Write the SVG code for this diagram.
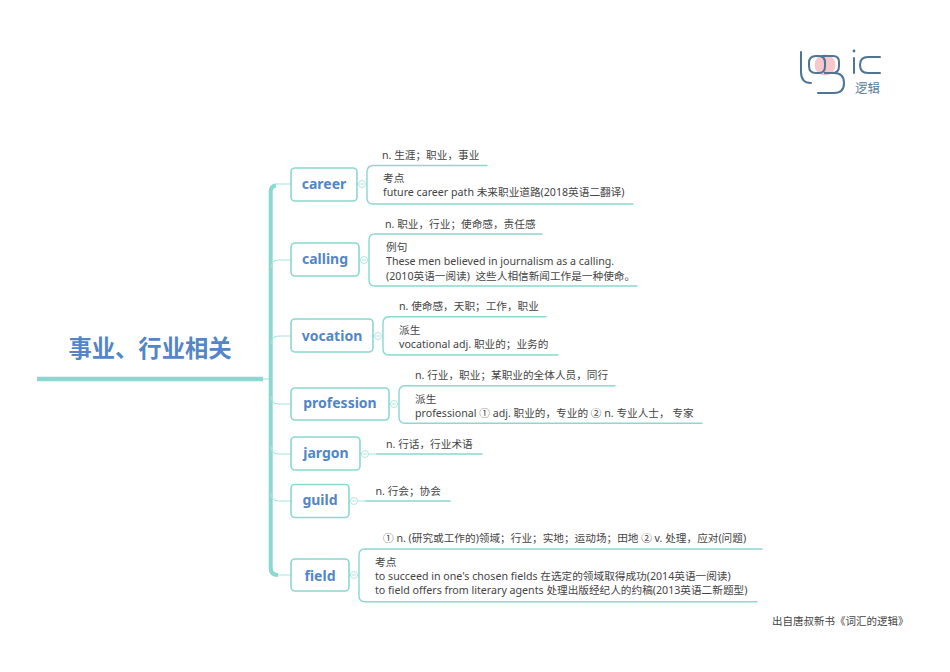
<svg xmlns="http://www.w3.org/2000/svg" width="950" height="672" viewBox="0 0 950 672">
<style>
text{font-family:"Noto Sans","Noto Sans CJK SC",sans-serif}
.t{font-size:10.650px;fill:#444}
.n{font-size:14px;font-weight:700;fill:#5286c6;text-anchor:middle}
.b{fill:#fff;stroke:#8ad8d0;stroke-width:1.6}
.l{fill:none;stroke:#8ad8d0;stroke-width:1.4;stroke-linecap:round}
.s{fill:none;stroke:#a8e3dd;stroke-width:1.2}
.c{fill:#fff;stroke:#a8e3dd;stroke-width:.9}
.m{stroke:#a8e3dd;stroke-width:.9}
.g{fill:none;stroke:#4e7594;stroke-width:2;stroke-linecap:round}
</style>
<rect width="950" height="672" fill="#fff"/>
<g id="logo">
<circle cx="825" cy="65" r="10.500" fill="#f6c7cd"/>
<path class="g" d="M801 52V72Q801 83 811 83"/>
<path class="g" d="M816 56Q809 56 809 63V66Q809 73 816 73H819Q825 73 825 66V63Q825 56 819 56Z"/>
<path class="g" d="M822 56H833Q839 56 839 62V66Q839 73 832 73H824H834Q844 73 844 83Q844 93 834 93H818"/>
<circle cx="854" cy="51" r="1.400" fill="#4e7594"/>
<path class="g" d="M854 58V73"/>
<path class="g" d="M880 57H868Q860 57 860 65Q860 73 868 73H880"/>
<text x="855" y="92.500" font-size="12.500" fill="#5a7f9e">逻辑</text>
</g>
<g id="connectors">
<path d="M37 379H263" fill="none" stroke="#8ad8d0" stroke-width="4.500"/>
<path d="M263 379H270" class="s"/>
<path d="M276 185.500Q270.700 186 270.700 192V568Q270.700 575 278 575" fill="none" stroke="#8ad8d0" stroke-width="4"/>
<path class="s" d="M275 184H291M278 575H291" />
<path class="s" d="M271 268Q271 260 279 260H291M271 344Q271 336 279 336H291M271 396Q271 404 279 404H291M271 446Q271 454 279 454H291M271 493Q271 501 279 501H291"/>
<path class="s" d="M357 184H366M359 260H368M373 336H382M389 404H398M360 454H377M349 501H366M349 575H358"/>
<path class="l" d="M373 165.500H487M373 165.500Q367 166 367 172V198Q367 204 373 204H633"/>
<path class="l" d="M375 234H542M375 234Q369 234 369 240V280Q369 286 375 286H637"/>
<path class="l" d="M389 316.700H546M389 316.700Q383 317 383 323V349Q383 355 389 355H558"/>
<path class="l" d="M405 385.700H615M405 385.700Q399 386 399 392V417Q399 423.300 405 423.300H702"/>
<path class="l" d="M377 454H482M366 501H450"/>
<path class="l" d="M365 549H762M365 549Q359 549 359 555V596Q359 601.700 365 601.700H757"/>
</g>
<g id="root"><text x="150" y="357" font-size="23.300" font-weight="700" fill="#5286c6" text-anchor="middle">事业、行业相关</text></g>
<g id="career"><rect class="b" x="291" y="168" width="66" height="33" rx="4"/><text class="n" x="324" y="189">career</text><circle class="c" cx="362" cy="184" r="3.500"/><path class="m" d="M360 184H364"/>
<text class="t" x="382" y="159">n. 生涯；职业，事业</text><text class="t" x="383" y="182">考点</text><text class="t" x="383" y="196">future career path 未来职业道路(2018英语二翻译)</text></g>
<g id="calling"><rect class="b" x="291" y="243" width="68" height="33" rx="4"/><text class="n" x="325" y="264">calling</text><circle class="c" cx="364" cy="260" r="3.500"/><path class="m" d="M362 260H366"/>
<text class="t" x="385" y="228">n. 职业，行业；使命感，责任感</text><text class="t" x="386" y="251">例句</text><text class="t" x="386" y="265">These men believed in journalism as a calling.</text><text class="t" x="386" y="280" xml:space="preserve">(2010英语一阅读)  这些人相信新闻工作是一种使命。</text></g>
<g id="vocation"><rect class="b" x="291" y="319" width="82" height="33" rx="4"/><text class="n" x="332" y="341">vocation</text><circle class="c" cx="378" cy="336" r="3.500"/><path class="m" d="M376 336H380"/>
<text class="t" x="399" y="310">n. 使命感，天职；工作，职业</text><text class="t" x="399" y="334">派生</text><text class="t" x="399" y="348">vocational adj. 职业的；业务的</text></g>
<g id="profession"><rect class="b" x="291" y="388" width="98" height="32" rx="4"/><text class="n" x="340" y="408">profession</text><circle class="c" cx="394" cy="404" r="3.500"/><path class="m" d="M392 404H396"/>
<text class="t" x="415" y="379">n. 行业，职业；某职业的全体人员，同行</text><text class="t" x="415" y="403">派生</text><text class="t" x="415" y="417">professional ① adj. 职业的，专业的 ② n. 专业人士， 专家</text></g>
<g id="jargon"><rect class="b" x="291" y="437" width="69" height="33" rx="4"/><text class="n" x="326" y="458">jargon</text><circle class="c" cx="365" cy="454" r="3.500"/><path class="m" d="M363 454H367"/>
<text class="t" x="386" y="448">n. 行话，行业术语</text></g>
<g id="guild"><rect class="b" x="291" y="484.500" width="58" height="33" rx="4"/><text class="n" x="320" y="505">guild</text><circle class="c" cx="354" cy="501" r="3.500"/><path class="m" d="M352 501H356"/>
<text class="t" x="375.500" y="495">n. 行会；协会</text></g>
<g id="field"><rect class="b" x="291" y="559" width="58" height="32" rx="4"/><text class="n" x="320" y="581">field</text><circle class="c" cx="354" cy="575" r="3.500"/><path class="m" d="M352 575H356"/>
<text class="t" x="383" y="542">① n. (研究或工作的)领域；行业；实地；运动场；田地 ② v. 处理，应对(问题)</text><text class="t" x="375" y="566">考点</text><text class="t" x="375" y="580">to succeed in one's chosen fields 在选定的领域取得成功(2014英语一阅读)</text><text class="t" x="375" y="594">to field offers from literary agents 处理出版经纪人的约稿(2013英语二新题型)</text></g>
<text x="772" y="625" font-size="10.500" fill="#444">出自唐叔新书《词汇的逻辑》</text>
</svg>
